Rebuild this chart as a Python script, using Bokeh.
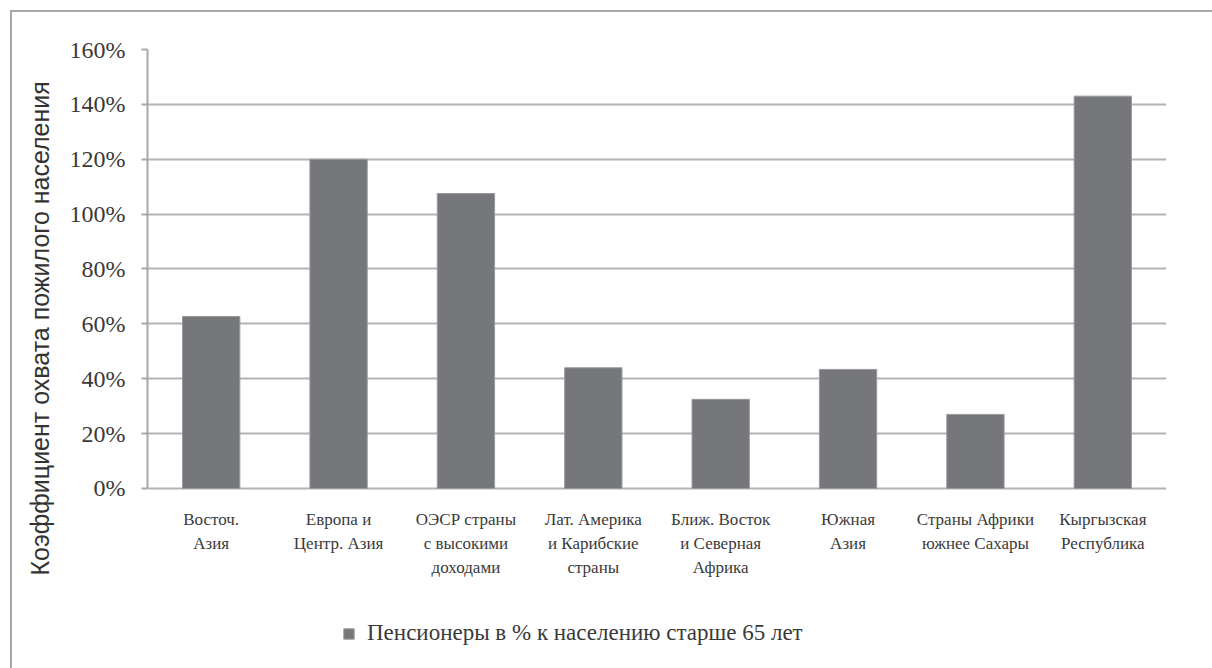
from bokeh.plotting import figure
from bokeh.models import ColumnDataSource, FixedTicker, NumeralTickFormatter, Range1d, Legend, LegendItem, Title
from bokeh.core.properties import value
from bokeh.embed import file_html
from bokeh.resources import INLINE

categories = ["Восточ.\nАзия", "Европа и\nЦентр. Азия", "ОЭСР страны\nс высокими\nдоходами",
              "Лат. Америка\nи Карибские\nстраны", "Ближ. Восток\nи Северная\nАфрика",
              "Южная\nАзия", "Страны Африки\nюжнее Сахары", "Кыргызская\nРеспублика"]
values = [0.627, 1.20, 1.075, 0.44, 0.325, 0.434, 0.27, 1.43]
y_ticks = [0, 0.2, 0.4, 0.6, 0.8, 1.0, 1.2, 1.4, 1.6]
series_name = "Пенсионеры в % к населению старше 65 лет"
y_label = "Коэффициент охвата пожилого населения"

src = ColumnDataSource(dict(cat=categories, val=values, base=[0] * len(categories)))

p = figure(x_range=categories, y_range=Range1d(-0.6269, 1.6), width=1202, height=658,
           output_backend="svg", toolbar_location=None)
p.min_border_left = 132
p.min_border_right = 48
p.min_border_top = 37
p.min_border_bottom = 10
p.outline_line_color = None
p.background_fill_color = "white"
p.border_fill_color = "white"
p.styles = {"border-left": "2px solid #a8a8a8", "border-top": "2px solid #a8a8a8",
            "margin-left": "10px", "margin-top": "10px"}

r = p.vbar(x="cat", top="val", width=0.45, source=src, fill_color="#76777a", line_color="#9a9a9a", line_width=1)

p.text(x="cat", y="base", text="cat", source=src, y_offset=22, text_align="center",
       text_baseline="top", text_font=value("Liberation Serif"), text_font_size="17px",
       text_color="#3a3a3a", text_line_height=1.25)

p.xaxis.visible = False

p.yaxis.ticker = FixedTicker(ticks=y_ticks)
p.yaxis.bounds = (0, 1.6)
p.yaxis.formatter = NumeralTickFormatter(format="0%")
p.yaxis.major_label_text_font = "Liberation Serif"
p.yaxis.major_label_text_font_size = "24px"
p.yaxis.major_label_text_color = "#3a3a3a"
p.yaxis.axis_line_color = "#a8a8a8"
p.yaxis.axis_line_width = 2
p.yaxis.major_tick_line_color = "#a8a8a8"
p.yaxis.major_tick_line_width = 2
p.yaxis.major_tick_out = 6
p.yaxis.major_tick_in = 0
p.yaxis.minor_tick_line_color = None
p.yaxis.major_label_standoff = 16

ylab = Title(text=y_label, align="left", vertical_align="middle", offset=85, standoff=24,
             text_font="Liberation Sans", text_font_size="25px", text_font_style="normal",
             text_color="#333333")
p.add_layout(ylab, "left")

p.xgrid.grid_line_color = None
p.ygrid.ticker = FixedTicker(ticks=y_ticks)
p.ygrid.grid_line_color = "#b4b4b4"
p.ygrid.grid_line_width = 2

legend = Legend(items=[LegendItem(label=series_name, renderers=[r])], location=(195, 14),
                orientation="horizontal", border_line_color=None, background_fill_alpha=0,
                label_text_font="Liberation Serif", label_text_font_size="23px",
                label_text_color="#3a3a3a", glyph_width=13, glyph_height=13,
                label_standoff=12, padding=0, margin=0)
p.add_layout(legend, "center")

open("out.html", "w").write(file_html(p, INLINE))
